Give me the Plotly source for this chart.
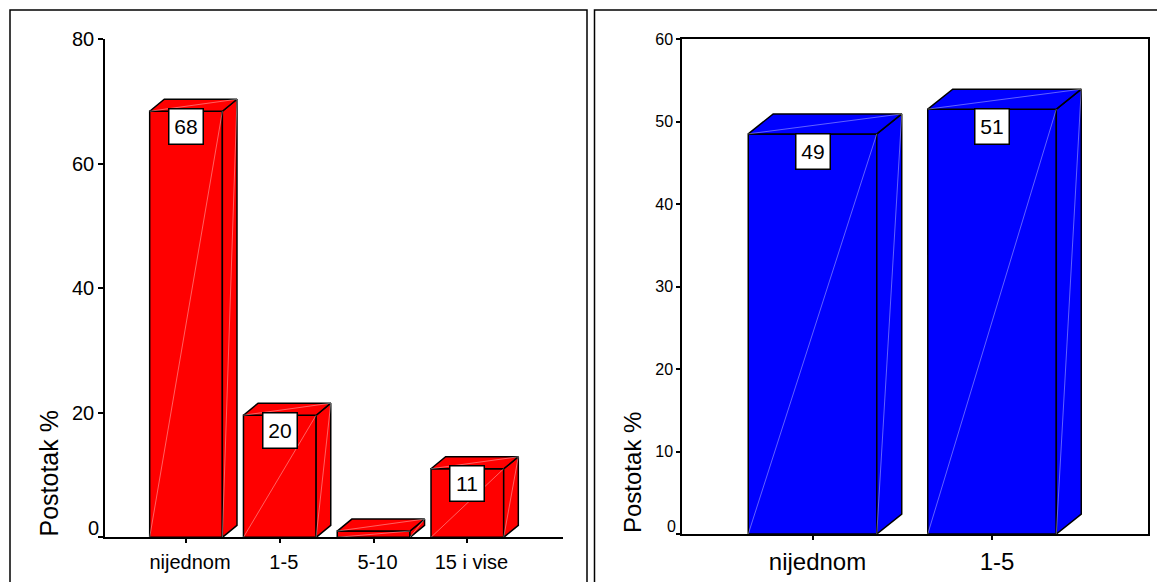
import plotly.graph_objects as go

W, H = 1157, 582

# ---------------- data ----------------
left_categories = ["nijednom", "1-5", "5-10", "15 i vise"]
left_values = [68.4, 19.6, 1.0, 11.0]
left_labels = ["68", "20", "", "11"]
left_ticks = [0, 20, 40, 60, 80]

right_categories = ["nijednom", "1-5"]
right_values = [48.5, 51.5]
right_labels = ["49", "51"]
right_ticks = [0, 10, 20, 30, 40, 50, 60]

y_title = "Postotak %"

# ---------------- styles ----------------
RED = "#FF0000"
BLUE = "#0000FF"
FONT = "Arial, Liberation Sans, sans-serif"
SEAM = "rgba(255,255,255,0.38)"


def px(x):
    return x / W


def py(y):
    return 1 - y / H


fig = go.Figure()


def add_bars(xa, ya, cats, vals, labels, color, width, dx, dy, label_font, label_shift, box_w, box_h):
    xs = list(range(len(cats)))
    fig.add_trace(go.Bar(
        x=xs, y=vals, width=width, xaxis=xa, yaxis=ya,
        marker=dict(color=color, line=dict(color="black", width=1.5)),
        hoverinfo="skip", showlegend=False))
    for i, v in zip(xs, vals):
        xl, xr = i - width / 2, i + width / 2
        # side face
        fig.add_trace(go.Scatter(
            x=[xr, xr, xr + dx, xr + dx, xr], y=[0, v, v + dy, dy, 0],
            fill="toself", fillcolor=color, mode="lines",
            line=dict(color="black", width=1.5), xaxis=xa, yaxis=ya,
            hoverinfo="skip", showlegend=False))
        # top face
        fig.add_trace(go.Scatter(
            x=[xl, xr, xr + dx, xl + dx, xl], y=[v, v, v + dy, v + dy, v],
            fill="toself", fillcolor=color, mode="lines",
            line=dict(color="black", width=1.5), xaxis=xa, yaxis=ya,
            hoverinfo="skip", showlegend=False))
        # faint shading seams
        fig.add_trace(go.Scatter(
            x=[xl, xr, None, xr, xr + dx, None, xl, xr + dx],
            y=[0, v, None, 0, v + dy, None, v, v + dy],
            mode="lines", line=dict(color=SEAM, width=1), xaxis=xa, yaxis=ya,
            hoverinfo="skip", showlegend=False))
    for i, v, lab in zip(xs, vals, labels):
        if not lab:
            continue
        fig.add_annotation(
            x=i, y=v, xref=xa, yref=ya, text=lab, showarrow=False,
            xanchor="center", yanchor="top", yshift=label_shift,
            bgcolor="white", bordercolor="black", borderwidth=1.5, borderpad=0,
            width=box_w, height=box_h, align="center", valign="middle",
            font=dict(family=FONT, size=label_font, color="black"))


add_bars("x", "y", left_categories, left_values, left_labels, RED,
         0.775, 0.156, 1.93, 21, 3.5, 33, 34)
add_bars("x2", "y2", right_categories, right_values, right_labels, BLUE,
         0.716, 0.139, 2.42, 21, 1, 33, 34)

axis_common = dict(showgrid=False, zeroline=False, showline=True,
                   linecolor="black", linewidth=1.5, ticks="outside",
                   tickcolor="black", tickwidth=1.5, automargin=False)

fig.update_layout(
    width=W, height=H,
    margin=dict(l=0, r=0, t=0, b=0, pad=0, autoexpand=False),
    paper_bgcolor="white", plot_bgcolor="white",
    showlegend=False,
    font=dict(family=FONT, color="black"),
    xaxis=dict(domain=[px(105), px(563)], range=[-0.864, 4.02], anchor="y",
               tickmode="array", tickvals=list(range(len(left_categories))),
               ticktext=left_categories, ticklen=4,
               tickfont=dict(family=FONT, size=20, color="black"),
               ticklabelstandoff=2, ticklabelshift=4, **axis_common),
    yaxis=dict(domain=[py(537.3), py(39)], range=[0, 80], anchor="x",
               tickmode="array", tickvals=left_ticks,
               ticktext=["" if t == 0 else str(t) for t in left_ticks],
               ticklen=5, tickfont=dict(family=FONT, size=20, color="black"),
               **axis_common),
    xaxis2=dict(domain=[px(682), px(1147.7)], range=[-0.727, 1.867], anchor="y2",
                tickmode="array", tickvals=list(range(len(right_categories))),
                ticktext=right_categories, ticklen=4, mirror=True,
                tickfont=dict(family=FONT, size=24, color="black"),
                ticklabelstandoff=1, ticklabelshift=5, **axis_common),
    yaxis2=dict(domain=[py(534), py(39)], range=[0, 60], anchor="x2",
                tickmode="array", tickvals=right_ticks,
                ticktext=["" if t == 0 else str(t) for t in right_ticks],
                ticklen=4, mirror=True,
                tickfont=dict(family=FONT, size=16, color="black"),
                **axis_common),
)

# raised "0" tick labels
fig.add_annotation(x=px(101), xref="paper", y=0, yref="y", text="0",
                   showarrow=False, xanchor="right", yanchor="middle", yshift=9,
                   font=dict(family=FONT, size=20, color="black"))
fig.add_annotation(x=px(678), xref="paper", y=0, yref="y2", text="0",
                   showarrow=False, xanchor="right", yanchor="middle", yshift=8,
                   font=dict(family=FONT, size=16, color="black"))

# y-axis titles
fig.add_annotation(x=px(48), xref="paper", y=py(473.5), yref="paper",
                   text=y_title, textangle=-90, showarrow=False,
                   xanchor="center", yanchor="middle",
                   font=dict(family=FONT, size=25, color="black"))
fig.add_annotation(x=px(632), xref="paper", y=py(473), yref="paper",
                   text=y_title, textangle=-90, showarrow=False,
                   xanchor="center", yanchor="middle",
                   font=dict(family=FONT, size=24, color="black"))

# panel borders
fig.add_shape(type="rect", xref="paper", yref="paper",
              x0=px(10), x1=px(587), y0=-0.05, y1=py(10),
              line=dict(color="black", width=1.5), layer="below")
fig.add_shape(type="rect", xref="paper", yref="paper",
              x0=px(594.5), x1=1.05, y0=-0.05, y1=py(10),
              line=dict(color="black", width=1.5), layer="below")

post = """
document.documentElement.style.margin='0';
document.documentElement.style.padding='0';
document.documentElement.style.overflow='hidden';
document.body.style.margin='0';
document.body.style.padding='0';
document.body.style.overflow='hidden';
var gd = document.getElementById('{plot_id}');
gd.style.position='absolute';
gd.style.left='0px';
gd.style.top='0px';
"""

fig.write_html("out.html", post_script=post,
               config={"displayModeBar": False, "responsive": False})
